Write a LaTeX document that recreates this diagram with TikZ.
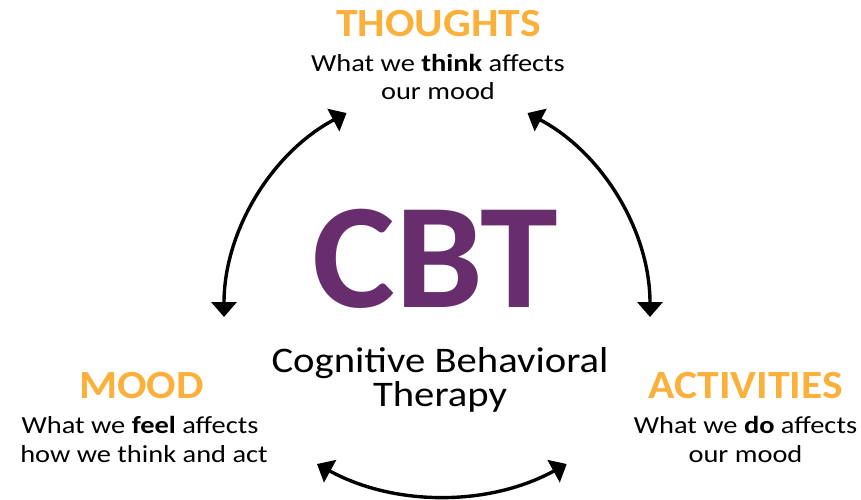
\documentclass[tikz,border=0pt]{standalone}
\usepackage{fontspec}
\setmainfont{Carlito}
\newfontfamily\bodyfont[FakeStretch=1.16]{Carlito}
\newfontfamily\headfont[FakeStretch=1.09]{Carlito}
\newfontfamily\subfont[FakeStretch=1.13]{Carlito}
\newfontfamily\bigfont[FakeStretch=1.045]{Carlito}
\usetikzlibrary{arrows.meta}
\definecolor{cbtpurple}{HTML}{672D6D}
\definecolor{cbtorange}{HTML}{FBB03B}
\begin{document}
\begin{tikzpicture}[x=1pt,y=1pt,
  every node/.style={inner sep=0pt, anchor=base},
  heading/.style={font=\headfont\fontsize{40}{40}\selectfont\bfseries, text=cbtorange},
  desc/.style={font=\bodyfont\fontsize{24.5}{24.5}\selectfont},
  cycle/.style={line width=3.4pt, {Triangle[length=15pt,width=25pt]}-{Triangle[length=15pt,width=25pt]}}]
\useasboundingbox (0,0) rectangle (861,499);

% centre title
\node (cbt) [font=\bigfont\fontsize{150}{150}\selectfont\bfseries, text=cbtpurple] at (435,192) {CBT};
\node (sub1) [font=\subfont\fontsize{36}{36}\selectfont] at (440,127) {Cognitive Behavioral};
\node (sub2) [font=\subfont\fontsize{36}{36}\selectfont] at (440,93) {Therapy};

% thoughts
\node (thoughts) [heading] at (438.5,462) {THOUGHTS};
\node (thoughtsA) [desc] at (438,427) {What we \textbf{think} affects};
\node (thoughtsB) [desc] at (438,399) {our mood};

% mood
\node (mood) [heading] at (141.5,101) {MOOD};
\node (moodA) [desc] at (140,66) {What we \textbf{feel} affects};
\node (moodB) [desc] at (144,37) {how we think and act};

% activities
\node (act) [heading] at (745.5,101) {ACTIVITIES};
\node (actA) [desc] at (745.5,66) {What we \textbf{do} affects};
\node (actB) [desc] at (745.5,37) {our mood};

% arrow ends
\coordinate (tl) at (224,182);
\coordinate (tr) at (650,182);
\coordinate (bl) at (317,35);

% cycle arrows
\draw[cycle] (tl) arc[start angle=180, end angle=118, radius=231];
\draw[cycle] (tr) arc[start angle=0, end angle=62, radius=231];
\draw[cycle] (bl) arc[start angle=241.3, end angle=298.7, radius=260];
\end{tikzpicture}
\end{document}
